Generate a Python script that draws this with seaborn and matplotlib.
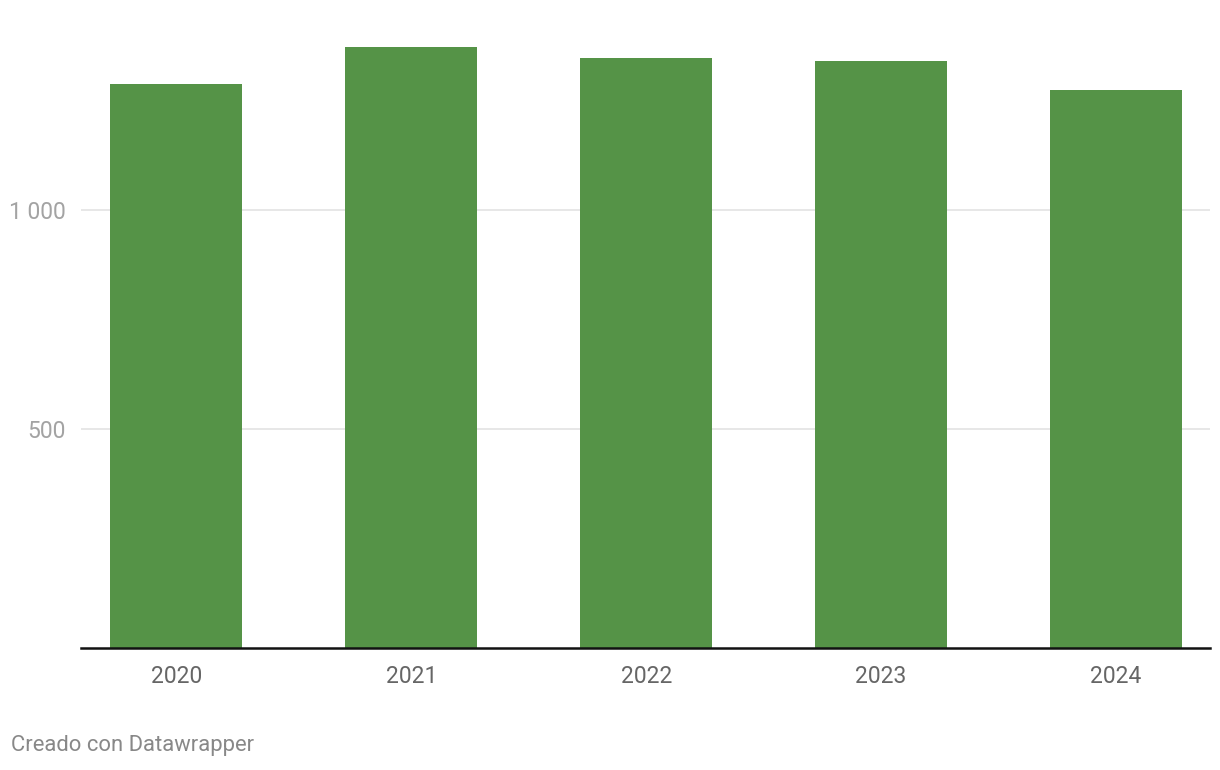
import pandas as pd
import seaborn as sns
import matplotlib.pyplot as plt
from matplotlib.ticker import FuncFormatter

years = ['2020', '2021', '2022', '2023', '2024']
values = [1287, 1372, 1347, 1340, 1274]

df = pd.DataFrame({'year': years, 'value': values})

sns.set_style("white")
plt.rcParams['font.family'] = ['Roboto', 'DejaVu Sans']

fig = plt.figure(figsize=(12.2, 7.7), dpi=100)
ax = fig.add_axes([81 / 1220, 1 - 648 / 770, (1210 - 81) / 1220, (648 - 40) / 770])

sns.barplot(data=df, x='year', y='value', color='#559347', width=0.562,
            saturation=1, linewidth=0, ax=ax, zorder=3)

ax.set_xlim(-0.406, 4.4)
ax.set_ylim(0, (648 - 40) / 0.438)
ax.set_yticks([500, 1000])
ax.yaxis.set_major_formatter(FuncFormatter(lambda v, p: f'{int(v):,}'.replace(',', ' ')))
ax.grid(axis='y', color='#e3e3e3', linewidth=1.2, zorder=0)
ax.set_xlabel('')
ax.set_ylabel('')

for side in ['top', 'right', 'left']:
    ax.spines[side].set_visible(False)
ax.spines['bottom'].set_color('#111111')
ax.spines['bottom'].set_linewidth(1.8)
ax.spines['bottom'].set_zorder(5)

ax.tick_params(axis='y', length=0, pad=11, labelsize=16.5, labelcolor='#a3a3a3')
ax.tick_params(axis='x', length=0, pad=12, labelsize=16.5, labelcolor='#666666')

fig.text(11 / 1220, 1 - 746 / 770, 'Creado con Datawrapper', fontsize=15.8,
         color='#888888', va='center', ha='left')

fig.savefig('out.png', dpi=100)
